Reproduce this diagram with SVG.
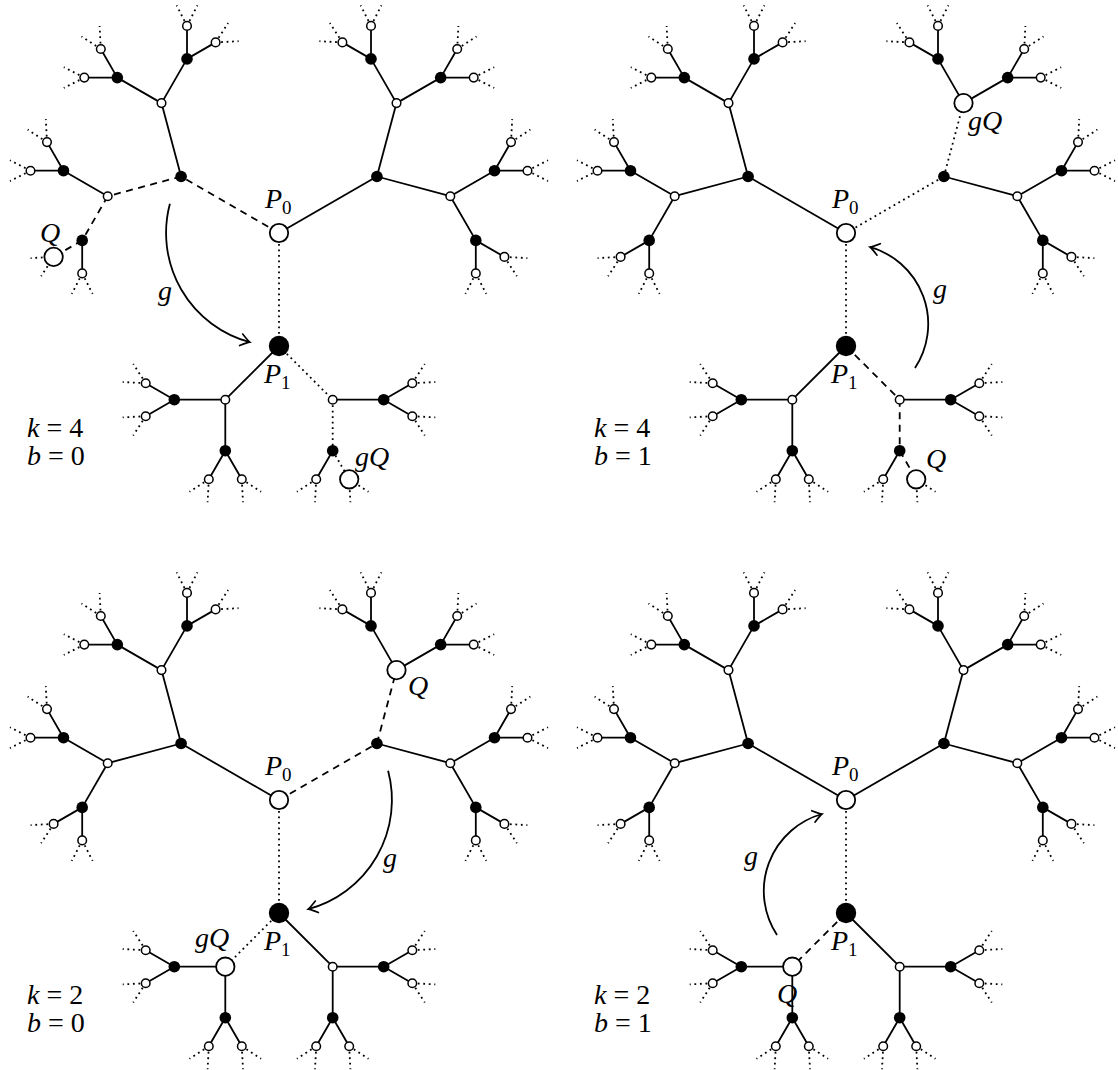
<svg xmlns="http://www.w3.org/2000/svg" xmlns:xlink="http://www.w3.org/1999/xlink" width="1118" height="1070" viewBox="0 0 1118 1070" font-family="Liberation Serif, DejaVu Serif, serif">
<style>
.s{stroke:#000;stroke-width:1.8;fill:none}
.d{stroke:#000;stroke-width:1.8;fill:none;stroke-dasharray:7 5.5}
.o{stroke:#000;stroke-width:1.8;fill:none;stroke-dasharray:1.8 3.7}
.w{fill:#fff;stroke:#000;stroke-width:1.5}
.k{fill:#000}
.W{fill:#fff;stroke:#000;stroke-width:1.8}
text{font-family:"Liberation Serif","DejaVu Serif",serif;font-size:28px;fill:#000}
.i{font-style:italic}
.arc{stroke:#000;stroke-width:1.8;fill:none;marker-end:url(#arr)}
</style>
<defs>
<marker id="arr" viewBox="-12 -8 14 16" markerWidth="14" markerHeight="16" refX="0" refY="0" orient="auto" markerUnits="userSpaceOnUse"><path d="M-9 -6C-5 -3 -2 -0.8 0 0C-2 0.8 -5 3 -9 6" fill="none" stroke="#000" stroke-width="1.6" stroke-linecap="round"/></marker>
<path id="common" fill="none" stroke="#000" stroke-width="1.8" d="M-97.9 -56.5L-117.5 -129.9M97.9 -56.5L171.3 -36.8M-117.5 -129.9L-161.7 -155.4M-117.5 -129.9L-92 -174.1M-171.3 -36.8L-215.5 -62.3M117.5 -129.9L161.7 -155.4M117.5 -129.9L92 -174.1M171.3 -36.8L215.5 -62.3M171.3 -36.8L196.8 7.4M-53.7 166.7L-104.7 166.7M-53.7 166.7L-53.7 217.7M53.7 166.7L104.7 166.7M-161.7 -155.4L-194.7 -155.4M-161.7 -155.4L-178.2 -184M-92 -174.1L-92 -207.1M-92 -174.1L-63.4 -190.6M-215.5 -62.3L-248.5 -62.3M-215.5 -62.3L-232 -90.9M-196.8 7.4L-196.8 40.4M161.7 -155.4L194.7 -155.4M161.7 -155.4L178.2 -184M92 -174.1L92 -207.1M92 -174.1L63.4 -190.6M215.5 -62.3L248.5 -62.3M215.5 -62.3L232 -90.9M196.8 7.4L225.4 23.9M196.8 7.4L196.8 40.4M-104.7 166.7L-133.3 150.2M-104.7 166.7L-133.3 183.2M-53.7 217.7L-70.2 246.3M-53.7 217.7L-37.2 246.3M104.7 166.7L133.3 150.2M104.7 166.7L133.3 183.2M53.7 217.7L37.2 246.3"/>
<path id="stubs" fill="none" stroke="#000" stroke-width="1.8" stroke-dasharray="1.8 3.7" d="M-194.7 -155.4L-215.2 -165.8M-194.7 -155.4L-215.2 -145M-178.2 -184L-197.5 -196.5M-178.2 -184L-179.4 -207M-92 -207.1L-102.4 -227.6M-92 -207.1L-81.6 -227.6M-63.4 -190.6L-50.9 -209.9M-63.4 -190.6L-40.4 -191.8M-248.5 -62.3L-269 -72.7M-248.5 -62.3L-269 -51.9M-232 -90.9L-251.3 -103.4M-232 -90.9L-233.2 -113.9M-225.4 23.9L-237.9 43.2M-225.4 23.9L-248.4 25.1M-196.8 40.4L-186.4 60.9M-196.8 40.4L-207.2 60.9M194.7 -155.4L215.2 -165.8M194.7 -155.4L215.2 -145M178.2 -184L179.4 -207M178.2 -184L197.5 -196.5M92 -207.1L81.6 -227.6M92 -207.1L102.4 -227.6M63.4 -190.6L40.4 -191.8M63.4 -190.6L50.9 -209.9M248.5 -62.3L269 -72.7M248.5 -62.3L269 -51.9M232 -90.9L233.2 -113.9M232 -90.9L251.3 -103.4M225.4 23.9L248.4 25.1M225.4 23.9L237.9 43.2M196.8 40.4L207.2 60.9M196.8 40.4L186.4 60.9M-133.3 150.2L-156.3 149M-133.3 150.2L-145.8 130.9M-133.3 183.2L-145.8 202.5M-133.3 183.2L-156.3 184.4M-70.2 246.3L-71.4 269.3M-70.2 246.3L-89.5 258.8M-37.2 246.3L-17.9 258.8M-37.2 246.3L-36 269.3M133.3 150.2L145.8 130.9M133.3 150.2L156.3 149M133.3 183.2L156.3 184.4M133.3 183.2L145.8 202.5M70.2 246.3L89.5 258.8M70.2 246.3L71.4 269.3M37.2 246.3L36 269.3M37.2 246.3L17.9 258.8"/>
</defs>

<!-- ===== Top-left panel ===== -->
<g id="tl" transform="translate(279 233)">
<g id="tl-connectors">
<use href="#common" xlink:href="#common"/>
<use href="#stubs" xlink:href="#stubs"/>
<line class="d" x1="0" y1="0" x2="-97.9" y2="-56.5"/>
<line class="d" x1="-97.9" y1="-56.5" x2="-171.3" y2="-36.8"/>
<line class="d" x1="-171.3" y1="-36.8" x2="-196.8" y2="7.4"/>
<line class="d" x1="-196.8" y1="7.4" x2="-225.4" y2="23.9"/>
<line class="s" x1="0" y1="0" x2="97.9" y2="-56.5"/>
<line class="s" x1="97.9" y1="-56.5" x2="117.5" y2="-129.9"/>
<line class="o" x1="0" y1="0" x2="0" y2="113"/>
<line class="s" x1="0" y1="113" x2="-53.7" y2="166.7"/>
<line class="o" x1="0" y1="113" x2="53.7" y2="166.7"/>
<line class="o" x1="53.7" y1="166.7" x2="53.7" y2="217.7"/>
<line class="o" x1="53.7" y1="217.7" x2="70.2" y2="246.3"/>
</g>
<g id="tl-P0"><circle class="W" cx="0" cy="0" r="9.2"/></g>
<g id="tl-P1"><circle class="k" cx="0" cy="113" r="10.2"/></g>
<g id="tl-B1"><circle class="k" cx="-97.9" cy="-56.5" r="5.8"/></g>
<g id="tl-B2"><circle class="k" cx="97.9" cy="-56.5" r="5.8"/></g>
<g id="tl-WA1"><circle class="w" cx="-117.5" cy="-129.9" r="4.3"/></g>
<g id="tl-WB1"><circle class="w" cx="-171.3" cy="-36.8" r="4.3"/></g>
<g id="tl-WA2"><circle class="w" cx="117.5" cy="-129.9" r="4.3"/></g>
<g id="tl-WB2"><circle class="w" cx="171.3" cy="-36.8" r="4.3"/></g>
<g id="tl-WC1"><circle class="w" cx="-53.7" cy="166.7" r="4.3"/></g>
<g id="tl-WC2"><circle class="w" cx="53.7" cy="166.7" r="4.3"/></g>
<g id="tl-K1"><circle class="k" cx="-161.7" cy="-155.4" r="5.8"/></g>
<g id="tl-K2"><circle class="k" cx="-92" cy="-174.1" r="5.8"/></g>
<g id="tl-K3"><circle class="k" cx="-215.5" cy="-62.3" r="5.8"/></g>
<g id="tl-K4"><circle class="k" cx="-196.8" cy="7.4" r="5.8"/></g>
<g id="tl-K1r"><circle class="k" cx="161.7" cy="-155.4" r="5.8"/></g>
<g id="tl-K2r"><circle class="k" cx="92" cy="-174.1" r="5.8"/></g>
<g id="tl-K3r"><circle class="k" cx="215.5" cy="-62.3" r="5.8"/></g>
<g id="tl-K4r"><circle class="k" cx="196.8" cy="7.4" r="5.8"/></g>
<g id="tl-K5"><circle class="k" cx="-104.7" cy="166.7" r="5.8"/></g>
<g id="tl-K6"><circle class="k" cx="-53.7" cy="217.7" r="5.8"/></g>
<g id="tl-K5r"><circle class="k" cx="104.7" cy="166.7" r="5.8"/></g>
<g id="tl-K6r"><circle class="k" cx="53.7" cy="217.7" r="5.8"/></g>
<g id="tl-a1"><circle class="w" cx="-194.7" cy="-155.4" r="4.3"/></g>
<g id="tl-a2"><circle class="w" cx="-178.2" cy="-184" r="4.3"/></g>
<g id="tl-a3"><circle class="w" cx="-92" cy="-207.1" r="4.3"/></g>
<g id="tl-a4"><circle class="w" cx="-63.4" cy="-190.6" r="4.3"/></g>
<g id="tl-a5"><circle class="w" cx="-248.5" cy="-62.3" r="4.3"/></g>
<g id="tl-a6"><circle class="w" cx="-232" cy="-90.9" r="4.3"/></g>
<g id="tl-Q"><circle class="W" cx="-225.4" cy="23.9" r="9.2"/></g>
<g id="tl-a8"><circle class="w" cx="-196.8" cy="40.4" r="4.3"/></g>
<g id="tl-b1"><circle class="w" cx="194.7" cy="-155.4" r="4.3"/></g>
<g id="tl-b2"><circle class="w" cx="178.2" cy="-184" r="4.3"/></g>
<g id="tl-b3"><circle class="w" cx="92" cy="-207.1" r="4.3"/></g>
<g id="tl-b4"><circle class="w" cx="63.4" cy="-190.6" r="4.3"/></g>
<g id="tl-b5"><circle class="w" cx="248.5" cy="-62.3" r="4.3"/></g>
<g id="tl-b6"><circle class="w" cx="232" cy="-90.9" r="4.3"/></g>
<g id="tl-b7"><circle class="w" cx="225.4" cy="23.9" r="4.3"/></g>
<g id="tl-b8"><circle class="w" cx="196.8" cy="40.4" r="4.3"/></g>
<g id="tl-c1"><circle class="w" cx="-133.3" cy="150.2" r="4.3"/></g>
<g id="tl-c2"><circle class="w" cx="-133.3" cy="183.2" r="4.3"/></g>
<g id="tl-c3"><circle class="w" cx="-70.2" cy="246.3" r="4.3"/></g>
<g id="tl-c4"><circle class="w" cx="-37.2" cy="246.3" r="4.3"/></g>
<g id="tl-d1"><circle class="w" cx="133.3" cy="150.2" r="4.3"/></g>
<g id="tl-d2"><circle class="w" cx="133.3" cy="183.2" r="4.3"/></g>
<g id="tl-gQ"><circle class="W" cx="70.2" cy="246.3" r="9.2"/></g>
<g id="tl-d4"><circle class="w" cx="37.2" cy="246.3" r="4.3"/></g>
</g>
<g id="tl-arrow"><path class="arc" d="M169.9 203.8A113 113 0 0 0 249.8 342.1"/></g>
<g id="tl-labels">
<text class="i" x="265" y="208" font-family="Liberation Serif, DejaVu Serif, serif">P<tspan font-size="19" dy="6" font-style="normal">0</tspan></text>
<text class="i" x="264" y="383" font-family="Liberation Serif, DejaVu Serif, serif">P<tspan font-size="19" dy="6" font-style="normal">1</tspan></text>
<text class="i" x="40" y="242" font-family="Liberation Serif, DejaVu Serif, serif">Q</text>
<text class="i" x="355" y="466" font-family="Liberation Serif, DejaVu Serif, serif">gQ</text>
<text class="i" x="158" y="300" font-family="Liberation Serif, DejaVu Serif, serif">g</text>
<text x="27" y="437" font-family="Liberation Serif, DejaVu Serif, serif"><tspan class="i">k</tspan> = 4</text>
<text x="27" y="465" font-family="Liberation Serif, DejaVu Serif, serif"><tspan class="i">b</tspan> = 0</text>
</g>

<!-- ===== Top-right panel ===== -->
<g id="tr" transform="translate(846 233)">
<g id="tr-connectors">
<use href="#common" xlink:href="#common"/>
<use href="#stubs" xlink:href="#stubs"/>
<line class="s" x1="0" y1="0" x2="-97.9" y2="-56.5"/>
<line class="s" x1="-97.9" y1="-56.5" x2="-171.3" y2="-36.8"/>
<line class="s" x1="-171.3" y1="-36.8" x2="-196.8" y2="7.4"/>
<line class="s" x1="-196.8" y1="7.4" x2="-225.4" y2="23.9"/>
<line class="o" x1="0" y1="0" x2="97.9" y2="-56.5"/>
<line class="o" x1="97.9" y1="-56.5" x2="117.5" y2="-129.9"/>
<line class="o" x1="0" y1="0" x2="0" y2="113"/>
<line class="s" x1="0" y1="113" x2="-53.7" y2="166.7"/>
<line class="d" x1="0" y1="113" x2="53.7" y2="166.7"/>
<line class="d" x1="53.7" y1="166.7" x2="53.7" y2="217.7"/>
<line class="d" x1="53.7" y1="217.7" x2="70.2" y2="246.3"/>
</g>
<g id="tr-P0"><circle class="W" cx="0" cy="0" r="9.2"/></g>
<g id="tr-P1"><circle class="k" cx="0" cy="113" r="10.2"/></g>
<g id="tr-B1"><circle class="k" cx="-97.9" cy="-56.5" r="5.8"/></g>
<g id="tr-B2"><circle class="k" cx="97.9" cy="-56.5" r="5.8"/></g>
<g id="tr-WA1"><circle class="w" cx="-117.5" cy="-129.9" r="4.3"/></g>
<g id="tr-WB1"><circle class="w" cx="-171.3" cy="-36.8" r="4.3"/></g>
<g id="tr-gQ"><circle class="W" cx="117.5" cy="-129.9" r="9.2"/></g>
<g id="tr-WB2"><circle class="w" cx="171.3" cy="-36.8" r="4.3"/></g>
<g id="tr-WC1"><circle class="w" cx="-53.7" cy="166.7" r="4.3"/></g>
<g id="tr-WC2"><circle class="w" cx="53.7" cy="166.7" r="4.3"/></g>
<g id="tr-K1"><circle class="k" cx="-161.7" cy="-155.4" r="5.8"/></g>
<g id="tr-K2"><circle class="k" cx="-92" cy="-174.1" r="5.8"/></g>
<g id="tr-K3"><circle class="k" cx="-215.5" cy="-62.3" r="5.8"/></g>
<g id="tr-K4"><circle class="k" cx="-196.8" cy="7.4" r="5.8"/></g>
<g id="tr-K1r"><circle class="k" cx="161.7" cy="-155.4" r="5.8"/></g>
<g id="tr-K2r"><circle class="k" cx="92" cy="-174.1" r="5.8"/></g>
<g id="tr-K3r"><circle class="k" cx="215.5" cy="-62.3" r="5.8"/></g>
<g id="tr-K4r"><circle class="k" cx="196.8" cy="7.4" r="5.8"/></g>
<g id="tr-K5"><circle class="k" cx="-104.7" cy="166.7" r="5.8"/></g>
<g id="tr-K6"><circle class="k" cx="-53.7" cy="217.7" r="5.8"/></g>
<g id="tr-K5r"><circle class="k" cx="104.7" cy="166.7" r="5.8"/></g>
<g id="tr-K6r"><circle class="k" cx="53.7" cy="217.7" r="5.8"/></g>
<g id="tr-a1"><circle class="w" cx="-194.7" cy="-155.4" r="4.3"/></g>
<g id="tr-a2"><circle class="w" cx="-178.2" cy="-184" r="4.3"/></g>
<g id="tr-a3"><circle class="w" cx="-92" cy="-207.1" r="4.3"/></g>
<g id="tr-a4"><circle class="w" cx="-63.4" cy="-190.6" r="4.3"/></g>
<g id="tr-a5"><circle class="w" cx="-248.5" cy="-62.3" r="4.3"/></g>
<g id="tr-a6"><circle class="w" cx="-232" cy="-90.9" r="4.3"/></g>
<g id="tr-a7"><circle class="w" cx="-225.4" cy="23.9" r="4.3"/></g>
<g id="tr-a8"><circle class="w" cx="-196.8" cy="40.4" r="4.3"/></g>
<g id="tr-b1"><circle class="w" cx="194.7" cy="-155.4" r="4.3"/></g>
<g id="tr-b2"><circle class="w" cx="178.2" cy="-184" r="4.3"/></g>
<g id="tr-b3"><circle class="w" cx="92" cy="-207.1" r="4.3"/></g>
<g id="tr-b4"><circle class="w" cx="63.4" cy="-190.6" r="4.3"/></g>
<g id="tr-b5"><circle class="w" cx="248.5" cy="-62.3" r="4.3"/></g>
<g id="tr-b6"><circle class="w" cx="232" cy="-90.9" r="4.3"/></g>
<g id="tr-b7"><circle class="w" cx="225.4" cy="23.9" r="4.3"/></g>
<g id="tr-b8"><circle class="w" cx="196.8" cy="40.4" r="4.3"/></g>
<g id="tr-c1"><circle class="w" cx="-133.3" cy="150.2" r="4.3"/></g>
<g id="tr-c2"><circle class="w" cx="-133.3" cy="183.2" r="4.3"/></g>
<g id="tr-c3"><circle class="w" cx="-70.2" cy="246.3" r="4.3"/></g>
<g id="tr-c4"><circle class="w" cx="-37.2" cy="246.3" r="4.3"/></g>
<g id="tr-d1"><circle class="w" cx="133.3" cy="150.2" r="4.3"/></g>
<g id="tr-d2"><circle class="w" cx="133.3" cy="183.2" r="4.3"/></g>
<g id="tr-Q"><circle class="W" cx="70.2" cy="246.3" r="9.2"/></g>
<g id="tr-d4"><circle class="w" cx="37.2" cy="246.3" r="4.3"/></g>
</g>
<g id="tr-arrow"><path class="arc" d="M915 368A80 80 0 0 0 870 247"/></g>
<g id="tr-labels">
<text class="i" x="832" y="208" font-family="Liberation Serif, DejaVu Serif, serif">P<tspan font-size="19" dy="6" font-style="normal">0</tspan></text>
<text class="i" x="831" y="383" font-family="Liberation Serif, DejaVu Serif, serif">P<tspan font-size="19" dy="6" font-style="normal">1</tspan></text>
<text class="i" x="968" y="130" font-family="Liberation Serif, DejaVu Serif, serif">gQ</text>
<text class="i" x="926" y="468" font-family="Liberation Serif, DejaVu Serif, serif">Q</text>
<text class="i" x="933" y="298" font-family="Liberation Serif, DejaVu Serif, serif">g</text>
<text x="594" y="437" font-family="Liberation Serif, DejaVu Serif, serif"><tspan class="i">k</tspan> = 4</text>
<text x="594" y="465" font-family="Liberation Serif, DejaVu Serif, serif"><tspan class="i">b</tspan> = 1</text>
</g>

<!-- ===== Bottom-left panel ===== -->
<g id="bl" transform="translate(279 800)">
<g id="bl-connectors">
<use href="#common" xlink:href="#common"/>
<use href="#stubs" xlink:href="#stubs"/>
<line class="s" x1="0" y1="0" x2="-97.9" y2="-56.5"/>
<line class="s" x1="-97.9" y1="-56.5" x2="-171.3" y2="-36.8"/>
<line class="s" x1="-171.3" y1="-36.8" x2="-196.8" y2="7.4"/>
<line class="s" x1="-196.8" y1="7.4" x2="-225.4" y2="23.9"/>
<line class="d" x1="0" y1="0" x2="97.9" y2="-56.5"/>
<line class="d" x1="97.9" y1="-56.5" x2="117.5" y2="-129.9"/>
<line class="o" x1="0" y1="0" x2="0" y2="113"/>
<line class="o" x1="0" y1="113" x2="-53.7" y2="166.7"/>
<line class="s" x1="0" y1="113" x2="53.7" y2="166.7"/>
<line class="s" x1="53.7" y1="166.7" x2="53.7" y2="217.7"/>
<line class="s" x1="53.7" y1="217.7" x2="70.2" y2="246.3"/>
</g>
<g id="bl-P0"><circle class="W" cx="0" cy="0" r="9.2"/></g>
<g id="bl-P1"><circle class="k" cx="0" cy="113" r="10.2"/></g>
<g id="bl-B1"><circle class="k" cx="-97.9" cy="-56.5" r="5.8"/></g>
<g id="bl-B2"><circle class="k" cx="97.9" cy="-56.5" r="5.8"/></g>
<g id="bl-WA1"><circle class="w" cx="-117.5" cy="-129.9" r="4.3"/></g>
<g id="bl-WB1"><circle class="w" cx="-171.3" cy="-36.8" r="4.3"/></g>
<g id="bl-Q"><circle class="W" cx="117.5" cy="-129.9" r="9.2"/></g>
<g id="bl-WB2"><circle class="w" cx="171.3" cy="-36.8" r="4.3"/></g>
<g id="bl-gQ"><circle class="W" cx="-53.7" cy="166.7" r="9.2"/></g>
<g id="bl-WC2"><circle class="w" cx="53.7" cy="166.7" r="4.3"/></g>
<g id="bl-K1"><circle class="k" cx="-161.7" cy="-155.4" r="5.8"/></g>
<g id="bl-K2"><circle class="k" cx="-92" cy="-174.1" r="5.8"/></g>
<g id="bl-K3"><circle class="k" cx="-215.5" cy="-62.3" r="5.8"/></g>
<g id="bl-K4"><circle class="k" cx="-196.8" cy="7.4" r="5.8"/></g>
<g id="bl-K1r"><circle class="k" cx="161.7" cy="-155.4" r="5.8"/></g>
<g id="bl-K2r"><circle class="k" cx="92" cy="-174.1" r="5.8"/></g>
<g id="bl-K3r"><circle class="k" cx="215.5" cy="-62.3" r="5.8"/></g>
<g id="bl-K4r"><circle class="k" cx="196.8" cy="7.4" r="5.8"/></g>
<g id="bl-K5"><circle class="k" cx="-104.7" cy="166.7" r="5.8"/></g>
<g id="bl-K6"><circle class="k" cx="-53.7" cy="217.7" r="5.8"/></g>
<g id="bl-K5r"><circle class="k" cx="104.7" cy="166.7" r="5.8"/></g>
<g id="bl-K6r"><circle class="k" cx="53.7" cy="217.7" r="5.8"/></g>
<g id="bl-a1"><circle class="w" cx="-194.7" cy="-155.4" r="4.3"/></g>
<g id="bl-a2"><circle class="w" cx="-178.2" cy="-184" r="4.3"/></g>
<g id="bl-a3"><circle class="w" cx="-92" cy="-207.1" r="4.3"/></g>
<g id="bl-a4"><circle class="w" cx="-63.4" cy="-190.6" r="4.3"/></g>
<g id="bl-a5"><circle class="w" cx="-248.5" cy="-62.3" r="4.3"/></g>
<g id="bl-a6"><circle class="w" cx="-232" cy="-90.9" r="4.3"/></g>
<g id="bl-a7"><circle class="w" cx="-225.4" cy="23.9" r="4.3"/></g>
<g id="bl-a8"><circle class="w" cx="-196.8" cy="40.4" r="4.3"/></g>
<g id="bl-b1"><circle class="w" cx="194.7" cy="-155.4" r="4.3"/></g>
<g id="bl-b2"><circle class="w" cx="178.2" cy="-184" r="4.3"/></g>
<g id="bl-b3"><circle class="w" cx="92" cy="-207.1" r="4.3"/></g>
<g id="bl-b4"><circle class="w" cx="63.4" cy="-190.6" r="4.3"/></g>
<g id="bl-b5"><circle class="w" cx="248.5" cy="-62.3" r="4.3"/></g>
<g id="bl-b6"><circle class="w" cx="232" cy="-90.9" r="4.3"/></g>
<g id="bl-b7"><circle class="w" cx="225.4" cy="23.9" r="4.3"/></g>
<g id="bl-b8"><circle class="w" cx="196.8" cy="40.4" r="4.3"/></g>
<g id="bl-c1"><circle class="w" cx="-133.3" cy="150.2" r="4.3"/></g>
<g id="bl-c2"><circle class="w" cx="-133.3" cy="183.2" r="4.3"/></g>
<g id="bl-c3"><circle class="w" cx="-70.2" cy="246.3" r="4.3"/></g>
<g id="bl-c4"><circle class="w" cx="-37.2" cy="246.3" r="4.3"/></g>
<g id="bl-d1"><circle class="w" cx="133.3" cy="150.2" r="4.3"/></g>
<g id="bl-d2"><circle class="w" cx="133.3" cy="183.2" r="4.3"/></g>
<g id="bl-d3"><circle class="w" cx="70.2" cy="246.3" r="4.3"/></g>
<g id="bl-d4"><circle class="w" cx="37.2" cy="246.3" r="4.3"/></g>
</g>
<g id="bl-arrow"><path class="arc" d="M388.1 770.8A113 113 0 0 1 308.2 909.1"/></g>
<g id="bl-labels">
<text class="i" x="265" y="775" font-family="Liberation Serif, DejaVu Serif, serif">P<tspan font-size="19" dy="6" font-style="normal">0</tspan></text>
<text class="i" x="264" y="950" font-family="Liberation Serif, DejaVu Serif, serif">P<tspan font-size="19" dy="6" font-style="normal">1</tspan></text>
<text class="i" x="408" y="695" font-family="Liberation Serif, DejaVu Serif, serif">Q</text>
<text class="i" x="195" y="947" font-family="Liberation Serif, DejaVu Serif, serif">gQ</text>
<text class="i" x="383" y="867" font-family="Liberation Serif, DejaVu Serif, serif">g</text>
<text x="27" y="1004" font-family="Liberation Serif, DejaVu Serif, serif"><tspan class="i">k</tspan> = 2</text>
<text x="27" y="1032" font-family="Liberation Serif, DejaVu Serif, serif"><tspan class="i">b</tspan> = 0</text>
</g>

<!-- ===== Bottom-right panel ===== -->
<g id="br" transform="translate(846 800)">
<g id="br-connectors">
<use href="#common" xlink:href="#common"/>
<use href="#stubs" xlink:href="#stubs"/>
<line class="s" x1="0" y1="0" x2="-97.9" y2="-56.5"/>
<line class="s" x1="-97.9" y1="-56.5" x2="-171.3" y2="-36.8"/>
<line class="s" x1="-171.3" y1="-36.8" x2="-196.8" y2="7.4"/>
<line class="s" x1="-196.8" y1="7.4" x2="-225.4" y2="23.9"/>
<line class="s" x1="0" y1="0" x2="97.9" y2="-56.5"/>
<line class="s" x1="97.9" y1="-56.5" x2="117.5" y2="-129.9"/>
<line class="o" x1="0" y1="0" x2="0" y2="113"/>
<line class="d" x1="0" y1="113" x2="-53.7" y2="166.7"/>
<line class="s" x1="0" y1="113" x2="53.7" y2="166.7"/>
<line class="s" x1="53.7" y1="166.7" x2="53.7" y2="217.7"/>
<line class="s" x1="53.7" y1="217.7" x2="70.2" y2="246.3"/>
</g>
<g id="br-P0"><circle class="W" cx="0" cy="0" r="9.2"/></g>
<g id="br-P1"><circle class="k" cx="0" cy="113" r="10.2"/></g>
<g id="br-B1"><circle class="k" cx="-97.9" cy="-56.5" r="5.8"/></g>
<g id="br-B2"><circle class="k" cx="97.9" cy="-56.5" r="5.8"/></g>
<g id="br-WA1"><circle class="w" cx="-117.5" cy="-129.9" r="4.3"/></g>
<g id="br-WB1"><circle class="w" cx="-171.3" cy="-36.8" r="4.3"/></g>
<g id="br-WA2"><circle class="w" cx="117.5" cy="-129.9" r="4.3"/></g>
<g id="br-WB2"><circle class="w" cx="171.3" cy="-36.8" r="4.3"/></g>
<g id="br-Q"><circle class="W" cx="-53.7" cy="166.7" r="9.2"/></g>
<g id="br-WC2"><circle class="w" cx="53.7" cy="166.7" r="4.3"/></g>
<g id="br-K1"><circle class="k" cx="-161.7" cy="-155.4" r="5.8"/></g>
<g id="br-K2"><circle class="k" cx="-92" cy="-174.1" r="5.8"/></g>
<g id="br-K3"><circle class="k" cx="-215.5" cy="-62.3" r="5.8"/></g>
<g id="br-K4"><circle class="k" cx="-196.8" cy="7.4" r="5.8"/></g>
<g id="br-K1r"><circle class="k" cx="161.7" cy="-155.4" r="5.8"/></g>
<g id="br-K2r"><circle class="k" cx="92" cy="-174.1" r="5.8"/></g>
<g id="br-K3r"><circle class="k" cx="215.5" cy="-62.3" r="5.8"/></g>
<g id="br-K4r"><circle class="k" cx="196.8" cy="7.4" r="5.8"/></g>
<g id="br-K5"><circle class="k" cx="-104.7" cy="166.7" r="5.8"/></g>
<g id="br-K6"><circle class="k" cx="-53.7" cy="217.7" r="5.8"/></g>
<g id="br-K5r"><circle class="k" cx="104.7" cy="166.7" r="5.8"/></g>
<g id="br-K6r"><circle class="k" cx="53.7" cy="217.7" r="5.8"/></g>
<g id="br-a1"><circle class="w" cx="-194.7" cy="-155.4" r="4.3"/></g>
<g id="br-a2"><circle class="w" cx="-178.2" cy="-184" r="4.3"/></g>
<g id="br-a3"><circle class="w" cx="-92" cy="-207.1" r="4.3"/></g>
<g id="br-a4"><circle class="w" cx="-63.4" cy="-190.6" r="4.3"/></g>
<g id="br-a5"><circle class="w" cx="-248.5" cy="-62.3" r="4.3"/></g>
<g id="br-a6"><circle class="w" cx="-232" cy="-90.9" r="4.3"/></g>
<g id="br-a7"><circle class="w" cx="-225.4" cy="23.9" r="4.3"/></g>
<g id="br-a8"><circle class="w" cx="-196.8" cy="40.4" r="4.3"/></g>
<g id="br-b1"><circle class="w" cx="194.7" cy="-155.4" r="4.3"/></g>
<g id="br-b2"><circle class="w" cx="178.2" cy="-184" r="4.3"/></g>
<g id="br-b3"><circle class="w" cx="92" cy="-207.1" r="4.3"/></g>
<g id="br-b4"><circle class="w" cx="63.4" cy="-190.6" r="4.3"/></g>
<g id="br-b5"><circle class="w" cx="248.5" cy="-62.3" r="4.3"/></g>
<g id="br-b6"><circle class="w" cx="232" cy="-90.9" r="4.3"/></g>
<g id="br-b7"><circle class="w" cx="225.4" cy="23.9" r="4.3"/></g>
<g id="br-b8"><circle class="w" cx="196.8" cy="40.4" r="4.3"/></g>
<g id="br-c1"><circle class="w" cx="-133.3" cy="150.2" r="4.3"/></g>
<g id="br-c2"><circle class="w" cx="-133.3" cy="183.2" r="4.3"/></g>
<g id="br-c3"><circle class="w" cx="-70.2" cy="246.3" r="4.3"/></g>
<g id="br-c4"><circle class="w" cx="-37.2" cy="246.3" r="4.3"/></g>
<g id="br-d1"><circle class="w" cx="133.3" cy="150.2" r="4.3"/></g>
<g id="br-d2"><circle class="w" cx="133.3" cy="183.2" r="4.3"/></g>
<g id="br-d3"><circle class="w" cx="70.2" cy="246.3" r="4.3"/></g>
<g id="br-d4"><circle class="w" cx="37.2" cy="246.3" r="4.3"/></g>
</g>
<g id="br-arrow"><path class="arc" d="M777 935A80 80 0 0 1 822 814"/></g>
<g id="br-labels">
<text class="i" x="832" y="775" font-family="Liberation Serif, DejaVu Serif, serif">P<tspan font-size="19" dy="6" font-style="normal">0</tspan></text>
<text class="i" x="831" y="950" font-family="Liberation Serif, DejaVu Serif, serif">P<tspan font-size="19" dy="6" font-style="normal">1</tspan></text>
<text class="i" x="777" y="1003" font-family="Liberation Serif, DejaVu Serif, serif">Q</text>
<text class="i" x="744" y="865" font-family="Liberation Serif, DejaVu Serif, serif">g</text>
<text x="594" y="1004" font-family="Liberation Serif, DejaVu Serif, serif"><tspan class="i">k</tspan> = 2</text>
<text x="594" y="1032" font-family="Liberation Serif, DejaVu Serif, serif"><tspan class="i">b</tspan> = 1</text>
</g>
</svg>
